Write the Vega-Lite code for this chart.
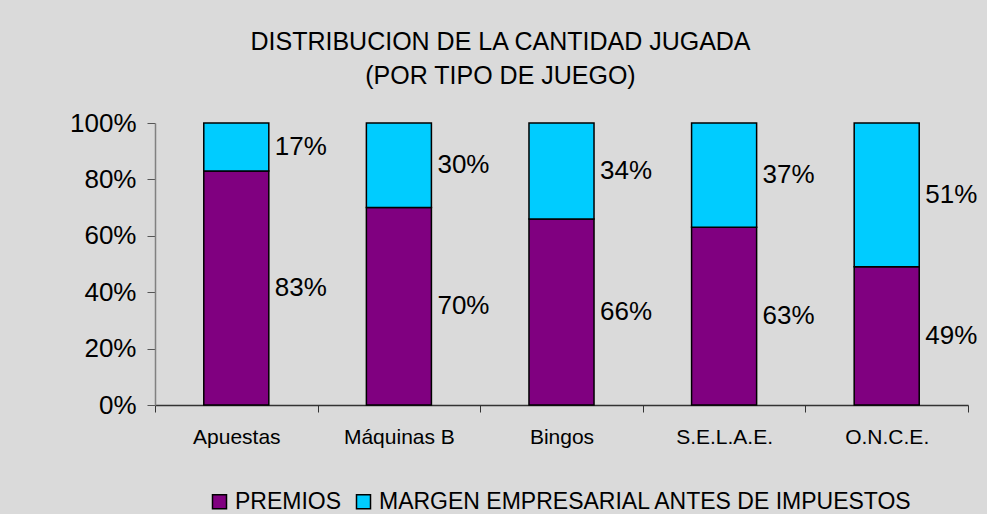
{
  "$schema": "https://vega.github.io/schema/vega-lite/v6.json",
  "width": 813,
  "height": 282,
  "autosize": {"type": "none"},
  "padding": {"left": 155, "top": 123, "right": 19, "bottom": 109},
  "background": "#dadada",
  "title": {
    "text": ["DISTRIBUCION DE LA CANTIDAD JUGADA", "(POR TIPO DE JUEGO)"],
    "fontSize": 25,
    "fontWeight": "normal",
    "font": "Liberation Sans",
    "color": "#000000",
    "lineHeight": 34,
    "anchor": "middle",
    "frame": "group",
    "baseline": "bottom",
    "dx": -61,
    "offset": -4
  },
  "data": {
    "values": [
      {"cat": "Apuestas", "serie": "PREMIOS", "orden": 1, "v": 0.83},
      {"cat": "Apuestas", "serie": "MARGEN EMPRESARIAL ANTES DE IMPUESTOS", "orden": 2, "v": 0.17},
      {"cat": "Máquinas B", "serie": "PREMIOS", "orden": 1, "v": 0.70},
      {"cat": "Máquinas B", "serie": "MARGEN EMPRESARIAL ANTES DE IMPUESTOS", "orden": 2, "v": 0.30},
      {"cat": "Bingos", "serie": "PREMIOS", "orden": 1, "v": 0.66},
      {"cat": "Bingos", "serie": "MARGEN EMPRESARIAL ANTES DE IMPUESTOS", "orden": 2, "v": 0.34},
      {"cat": "S.E.L.A.E.", "serie": "PREMIOS", "orden": 1, "v": 0.63},
      {"cat": "S.E.L.A.E.", "serie": "MARGEN EMPRESARIAL ANTES DE IMPUESTOS", "orden": 2, "v": 0.37},
      {"cat": "O.N.C.E.", "serie": "PREMIOS", "orden": 1, "v": 0.49},
      {"cat": "O.N.C.E.", "serie": "MARGEN EMPRESARIAL ANTES DE IMPUESTOS", "orden": 2, "v": 0.51}
    ]
  },
  "transform": [
    {"stack": "v", "groupby": ["cat"], "sort": [{"field": "orden", "order": "ascending"}], "as": ["y0", "y1"]}
  ],
  "encoding": {
    "x": {
      "field": "cat",
      "type": "nominal",
      "sort": null,
      "scale": {"paddingInner": 0, "paddingOuter": 0},
      "axis": {
        "title": null,
        "labelAngle": 0,
        "tickBand": "extent",
        "tickSize": 7,
        "labelPadding": 14,
        "labelFontSize": 21,
        "labelColor": "#000000",
        "domainColor": "#333333",
        "tickColor": "#333333",
        "domainWidth": 1.5,
        "grid": false
      }
    }
  },
  "layer": [
    {
      "mark": {"type": "bar", "width": {"band": 0.4}, "stroke": "#000000", "strokeWidth": 1.5},
      "encoding": {
        "y": {
          "field": "y0",
          "type": "quantitative",
          "scale": {"domain": [0, 1], "nice": false},
          "axis": {
            "title": null,
            "values": [0, 0.2, 0.4, 0.6, 0.8, 1],
            "format": ".0%",
            "grid": false,
            "tickSize": 8,
            "labelPadding": 11,
            "labelFontSize": 26,
            "labelColor": "#000000",
            "domainColor": "#808080",
            "tickColor": "#555555",
            "domainWidth": 1.5
          }
        },
        "y2": {"field": "y1"},
        "color": {
          "field": "serie",
          "type": "nominal",
          "scale": {
            "domain": ["PREMIOS", "MARGEN EMPRESARIAL ANTES DE IMPUESTOS"],
            "range": ["#800080", "#00ccff"]
          },
          "legend": {
            "title": null,
            "orient": "none",
            "direction": "horizontal",
            "legendX": 53,
            "legendY": 367,
            "padding": 0,
            "symbolType": "square",
            "symbolSize": 196,
            "symbolStrokeColor": "#000000",
            "symbolStrokeWidth": 1.5,
            "symbolOpacity": 1,
            "labelFontSize": 23,
            "labelColor": "#000000",
            "labelOffset": 4,
            "columnPadding": 10,
            "labelLimit": 800
          }
        }
      }
    },
    {
      "transform": [
        {"fold": ["y0", "y1"], "as": ["extremo", "pos"]}
      ],
      "mark": {"type": "text", "align": "left", "baseline": "middle", "dx": 6, "fontSize": 26, "color": "#000000"},
      "encoding": {
        "x": {"field": "cat", "type": "nominal", "sort": null, "bandPosition": 0.7},
        "y": {"aggregate": "mean", "field": "pos", "type": "quantitative"},
        "detail": {"field": "serie"},
        "text": {"aggregate": "min", "field": "v", "type": "quantitative", "format": ".0%"}
      }
    }
  ],
  "config": {
    "font": "Liberation Sans",
    "view": {"stroke": null},
    "axis": {"labelFont": "Liberation Sans"},
    "legend": {"labelFont": "Liberation Sans"}
  }
}
